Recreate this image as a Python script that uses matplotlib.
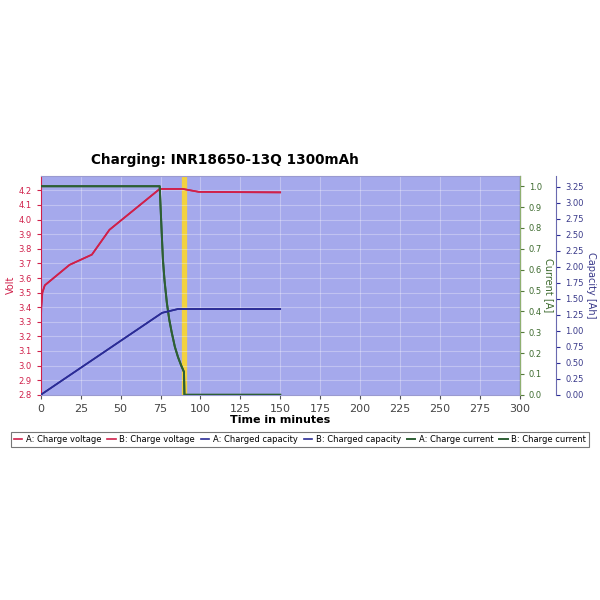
import matplotlib
matplotlib.use("Agg")
import matplotlib.pyplot as plt
import numpy as np

# Charge voltage (A and B lie on top of each other)
t_volt = [0, 0.3, 1, 2.5, 18, 26, 32, 43, 74.5, 89, 99, 150]
volt_a = [3.22, 3.40, 3.50, 3.55, 3.69, 3.73, 3.76, 3.93, 4.21, 4.21, 4.19, 4.185]
volt_b = [3.22, 3.40, 3.50, 3.55, 3.69, 3.73, 3.76, 3.93, 4.21, 4.21, 4.19, 4.188]

# Charge current
t_curr = [0, 74.5, 75.5, 76.5, 77.5, 79, 80.5, 82, 84, 86, 88, 89.7, 90, 150]
curr_a = [1.0, 1.0, 0.82, 0.65, 0.55, 0.44, 0.36, 0.30, 0.23, 0.18, 0.14, 0.11, 0.0, 0.0]
curr_b = [1.0, 1.0, 0.82, 0.65, 0.55, 0.44, 0.36, 0.30, 0.23, 0.18, 0.14, 0.11, 0.0, 0.0]

# Charged capacity
t_cap = [0, 76, 86, 150]
cap_a = [0.0, 1.28, 1.34, 1.34]
cap_b = [0.0, 1.28, 1.34, 1.34]

marker_t = 90

red = "#d0204a"
green = "#2d5f34"
blue = "#2b2c96"
bg = "#a5a9ec"

fig = plt.figure(figsize=(6, 6), dpi=100)
ax = fig.add_axes([0.068, 0.342, 0.798, 0.365])
ax.set_facecolor(bg)

ax2 = ax.twinx()
ax3 = ax.twinx()
ax3.spines["right"].set_position(("axes", 1.077))

ax.grid(True, color="white", alpha=0.3, linewidth=0.8)

l1, = ax.plot(t_volt, volt_a, color=red, lw=1.2, label="A: Charge voltage")
l2, = ax.plot(t_volt, volt_b, color=red, lw=1.2, label="B: Charge voltage")
l3, = ax3.plot(t_cap, cap_a, color=blue, lw=1.2, label="A: Charged capacity")
l4, = ax3.plot(t_cap, cap_b, color=blue, lw=1.2, label="B: Charged capacity")
l5, = ax2.plot(t_curr, curr_a, color=green, lw=1.4, label="A: Charge current")
l6, = ax2.plot(t_curr, curr_b, color=green, lw=1.4, label="B: Charge current")
ax.axvline(marker_t, color="#f2d240", lw=3.8, zorder=0.5)

ax.set_xlim(0, 300)
ax.set_xticks(np.arange(0, 301, 25))
ax.set_ylim(2.8, 4.3)
ax.set_yticks(np.arange(2.8, 4.21, 0.1))
ax.yaxis.set_major_formatter(matplotlib.ticker.FormatStrFormatter("%.1f"))
ax2.set_ylim(0, 1.05)
ax2.set_yticks(np.arange(0, 1.01, 0.1))
ax2.yaxis.set_major_formatter(matplotlib.ticker.FormatStrFormatter("%.1f"))
ax3.set_ylim(0, 3.42)
ax3.set_yticks(np.arange(0, 3.26, 0.25))
ax3.yaxis.set_major_formatter(matplotlib.ticker.FormatStrFormatter("%.2f"))

ax.tick_params(axis="x", labelsize=8, length=3, colors="#555555", labelcolor="#444444")
ax.tick_params(axis="y", labelsize=6, length=3, colors=red)
ax2.tick_params(axis="y", labelsize=6, length=3, colors="#557a3c", labelcolor="#3d6a2e")
ax3.tick_params(axis="y", labelsize=6, length=3, colors=blue, labelcolor="#3a3a8a")

for s in ["top", "bottom"]:
    ax.spines[s].set_color("#9a9ad0")
ax.spines["left"].set_color(red)
ax2.spines["right"].set_color("#8fb070")
ax3.spines["right"].set_color("#6a6ab0")
for a in (ax2, ax3):
    a.spines["left"].set_visible(False)
    a.spines["top"].set_visible(False)
    a.spines["bottom"].set_visible(False)

ax.set_ylabel("Volt", color=red, fontsize=7, labelpad=2)
ax2.set_ylabel("Current [A]", color="#3d6a2e", fontsize=7, rotation=270, labelpad=9)
ax3.set_ylabel("Capacity [Ah]", color="#3a3a8a", fontsize=7, rotation=270, labelpad=9)
ax.set_xlabel("Time in minutes", fontsize=8, fontweight="bold", labelpad=1)

fig.text(0.375, 0.733, "Charging: INR18650-13Q 1300mAh", ha="center", va="center",
         fontsize=9.8, fontweight="bold")

leg = fig.legend(handles=[l1, l2, l3, l4, l5, l6], loc="center", ncol=6,
                 bbox_to_anchor=(0.5, 0.267), fontsize=6.0, frameon=True,
                 fancybox=False, edgecolor="#555555", handlelength=1.0,
                 handletextpad=0.4, columnspacing=0.75, borderpad=0.35)
leg.get_frame().set_linewidth(0.8)

fig.savefig("out.png", dpi=100, facecolor="white")
